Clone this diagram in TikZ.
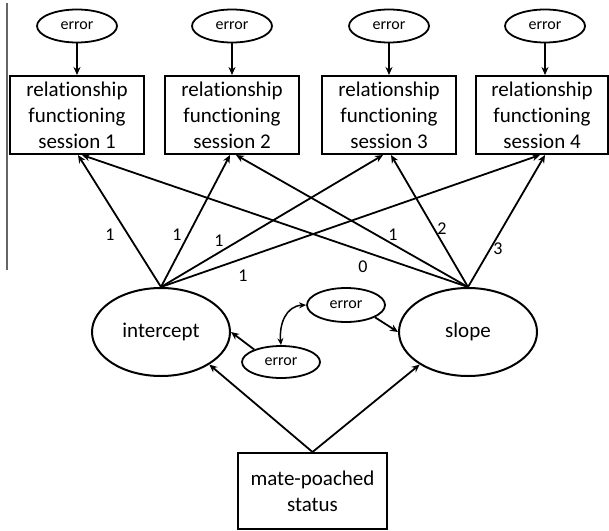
\documentclass[tikz,border=0pt]{standalone}
\usepackage{fontspec}
\setmainfont[Ligatures={NoCommon}]{Carlito}
\usetikzlibrary{arrows.meta,shapes.geometric,calc}
\begin{document}
\begin{tikzpicture}[x=1pt,y=-1pt,
  arr/.style={line width=1.8pt,-{Stealth[length=8pt,width=7pt]}},
  dblarr/.style={line width=1.5pt,{Stealth[length=7pt,width=6pt]}-{Stealth[length=7pt,width=6pt]}},
  obsbox/.style={draw,line width=2pt,minimum width=134pt,minimum height=78pt,inner sep=0pt,align=center,font=\fontsize{21}{26}\selectfont},
  latent/.style={draw,ellipse,line width=2pt,minimum width=138pt,minimum height=88pt,inner sep=0pt,font=\fontsize{21}{26}\selectfont},
  errnode/.style={draw,ellipse,line width=1.8pt,minimum width=80pt,minimum height=33pt,inner sep=0pt,font=\fontsize{16}{19}\selectfont},
  lbl/.style={font=\fontsize{18}{21}\selectfont,inner sep=0pt}]
\useasboundingbox (0,0) rectangle (609,530);
\draw[black!60,line width=1.2pt] (7,3) coordinate (vl1) -- (7,270) coordinate (vl2);

% observed boxes
\node[obsbox] (b1) at (77,115) {relationship\\functioning\\session 1};
\node[obsbox] (b2) at (232,115) {relationship\\functioning\\session 2};
\node[obsbox] (b3) at (389,115) {relationship\\functioning\\session 3};
\node[obsbox,minimum width=132pt] (b4) at (542,115) {relationship\\functioning\\session 4};

% top errors
\node[errnode] (e1) at (77,26) {error};
\node[errnode] (e2) at (232,26) {error};
\node[errnode] (e3) at (389,26) {error};
\node[errnode] (e4) at (545,26) {error};
\foreach \i in {1,2,3,4} \draw[arr] (e\i.south) -- (e\i.south |- b\i.north);

% latents
\node[latent] (int) at (161,332) {intercept};
\node[latent] (slp) at (468,332) {slope};

% middle errors
\node[errnode,minimum width=78pt,minimum height=34pt] (eu) at (346,305) {error};
\node[errnode,minimum width=78pt,minimum height=32pt] (el) at (281,362) {error};

% predictor
\node[draw,line width=2pt,minimum width=149pt,minimum height=76pt,inner sep=0pt,align=center,font=\fontsize{21}{26}\selectfont] (mp) at (312.5,491) {mate-poached\\status};

% loadings
\draw[arr] (int.north) -- ($(b1.south)+(1,0)$);
\draw[arr] (int.north) -- ($(b2.south)+(-2,0)$);
\draw[arr] (int.north) -- ($(b3.south)+(-6,0)$);
\draw[arr] (int.north) -- ($(b4.south)+(-2,0)$);
\draw[arr] (slp.north) -- ($(b1.south)+(5,0)$);
\draw[arr] (slp.north) -- ($(b2.south)+(4,0)$);
\draw[arr] (slp.north) -- ($(b3.south)+(2,0)$);
\draw[arr] (slp.north) -- ($(b4.south)+(3,0)$);

% labels
\node[lbl] (l1) at (110,235) {1};
\node[lbl] (l2) at (177,235) {1};
\node[lbl] (l3) at (219,241) {1};
\node[lbl] (l4) at (243,276) {1};
\node[lbl] (l5) at (363,267) {0};
\node[lbl] (l6) at (393,235) {1};
\node[lbl] (l7) at (442,229) {2};
\node[lbl] (l8) at (498,249) {3};

% disturbances
\draw[arr] (el.155) -- (int.east);
\draw[arr] (eu.-23) -- (slp.west);
\draw[dblarr] (eu.west) .. controls (286,306) and (279,324) .. (el.north);

% predictor paths
\draw[arr] (mp.north) -- (int.-34);
\draw[arr] (mp.north) -- (slp.-146);
\end{tikzpicture}
\end{document}
